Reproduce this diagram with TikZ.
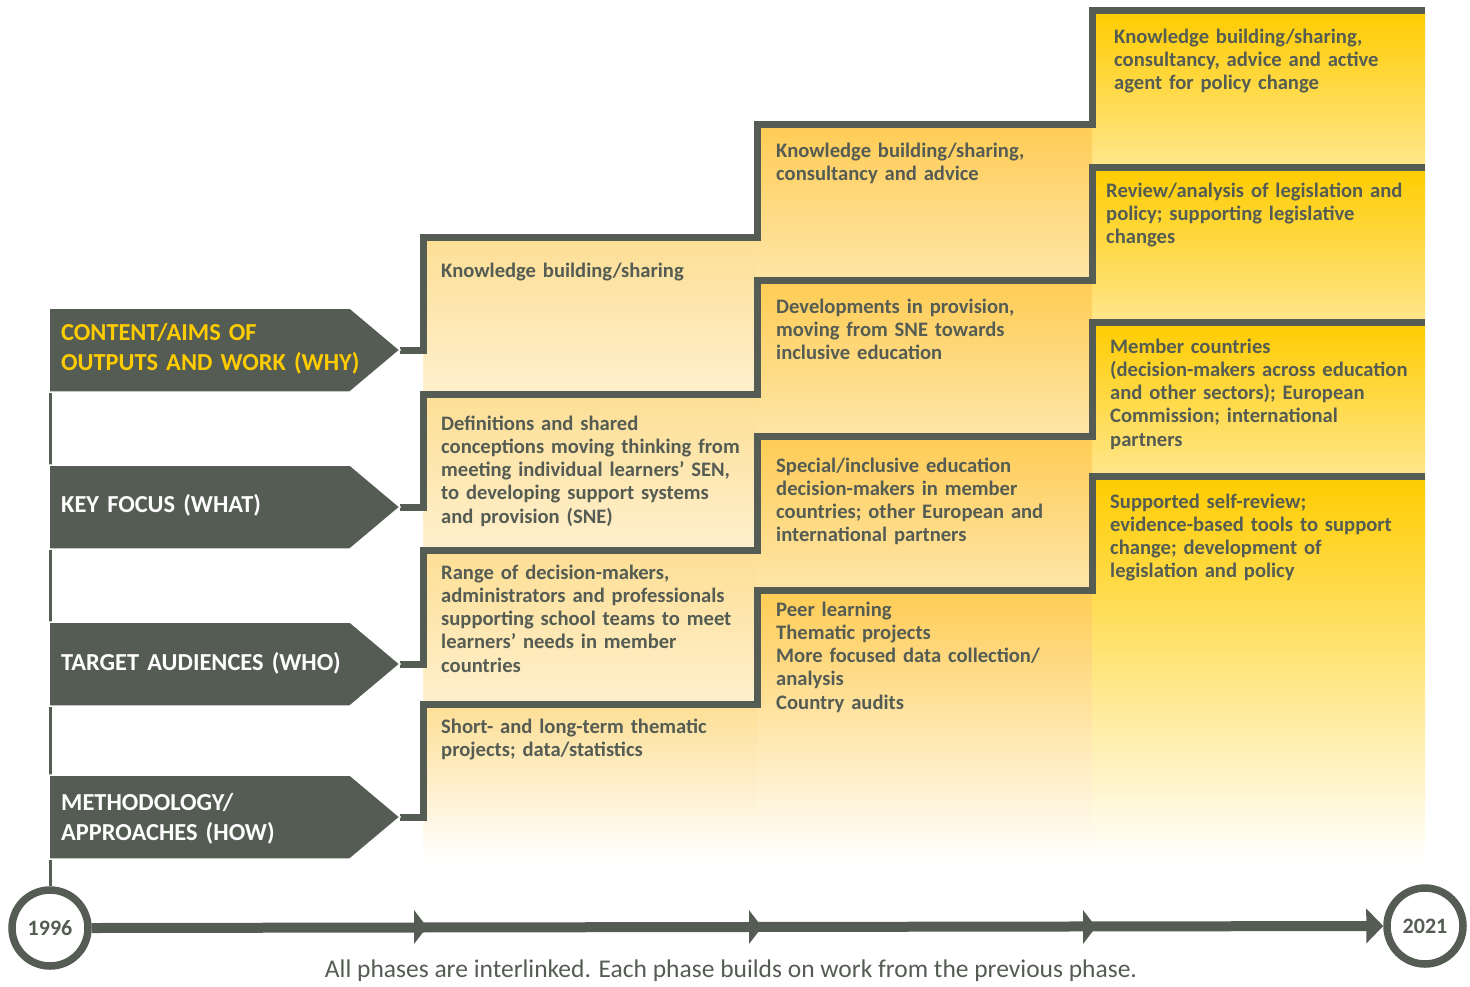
\documentclass[tikz,border=0pt]{standalone}
\usepackage{fontspec}
\setmainfont{Carlito}
\usetikzlibrary{arrows.meta}
\definecolor{dgray}{RGB}{84,92,83}
\definecolor{hiyel}{RGB}{255,204,0}
\definecolor{aTop}{RGB}{253,222,148}
\definecolor{aBot}{RGB}{254,240,206}
\definecolor{bTop}{RGB}{255,204,84}
\definecolor{bBot}{RGB}{254,230,168}
\definecolor{cTop}{RGB}{255,204,0}
\definecolor{cBot}{RGB}{255,230,140}
\definecolor{paleY}{RGB}{254,241,212}
\tikzset{
  stair/.style={draw=dgray, line width=7pt, line join=miter},
  labarrow/.style={fill=dgray, draw=white, line width=1.5pt, line join=miter},
  boxtext/.style={anchor=base west, align=left, text width=360pt, inner sep=0pt,
    font=\bfseries\fontsize{20.6}{23.3}\selectfont, text=dgray},
  labtext/.style={anchor=base west, align=left, text width=330pt, inner sep=0pt,
    font=\bfseries\fontsize{24.4}{30.5}\selectfont, text=white},
  yearc/.style={circle, draw=dgray, line width=7.5pt, fill=white, minimum size=76pt,
    inner sep=0pt, font=\bfseries\fontsize{22}{24}\selectfont, text=dgray},
  midtip/.style={fill=dgray},
}
\begin{document}
\begin{tikzpicture}[x=1pt,y=-1pt]
\useasboundingbox (0,0) rectangle (1470,986);
% ---------- gradient fills ----------
% row 1
\shade[top color=aTop, bottom color=aBot] (423,237) rectangle (757,394);
\shade[top color=bTop, bottom color=bBot] (757,124) rectangle (1092,280);
\shade[top color=cTop, bottom color=cBot] (1092,10) rectangle (1425,167);
% row 2
\shade[top color=aTop, bottom color=aBot] (423,394) rectangle (757,550);
\shade[top color=bTop, bottom color=bBot] (757,280) rectangle (1092,436);
\shade[top color=cTop, bottom color=cBot] (1092,167) rectangle (1425,322);
% row 3
\shade[top color=aTop, bottom color=aBot] (423,550) rectangle (757,704);
\shade[top color=bTop, bottom color=bBot] (757,436) rectangle (1092,590);
\shade[top color=cTop, bottom color=cBot] (1092,322) rectangle (1425,476);
% row 4 (fading to white)
\shade[top color=aTop, bottom color=white] (423,704) rectangle (757,862);
\shade[top color=bTop, bottom color=white] (757,590) rectangle (1092,862);
\shade[top color=cTop, middle color=cBot!80!white, bottom color=white] (1092,476) rectangle (1425,862);
% faint glow below label arrows
\foreach \t in {350,507,664,817}{
  \shade[top color=white, middle color=paleY, bottom color=white] (85,\t+4) rectangle (423,\t+62);
}
% ---------- left spine ----------
\node[yearc] (y1996) at (50,928) {1996};
\node[yearc] (y2021) at (1425,926) {2021};
\coordinate (spinetop) at (50.5,308);
\draw[dgray, line width=3pt] (spinetop) -- (y1996.north -| spinetop);
% ---------- staircases ----------
\coordinate (tip1) at (400,350);
\coordinate (tip2) at (400,507);
\coordinate (tip3) at (400,664);
\coordinate (tip4) at (400,817);
\draw[stair] (tip1) -- (423,350) -- (423,237) -- (757,237) -- (757,124) -- (1092,124) -- (1092,10) -- (1425,10);
\draw[stair] (tip2) -- (423,507) -- (423,394) -- (757,394) -- (757,280) -- (1092,280) -- (1092,167) -- (1425,167);
\draw[stair] (tip3) -- (423,664) -- (423,550) -- (757,550) -- (757,436) -- (1092,436) -- (1092,322) -- (1425,322);
\draw[stair] (tip4) -- (423,817) -- (423,704) -- (757,704) -- (757,590) -- (1092,590) -- (1092,476) -- (1425,476);
% ---------- label arrows ----------
\draw[labarrow] (49,308) -- (350,308) -- (tip1) -- (350,392) -- (49,392) -- cycle;
\draw[labarrow] (49,465) -- (350,465) -- (tip2) -- (350,549) -- (49,549) -- cycle;
\draw[labarrow] (49,622) -- (350,622) -- (tip3) -- (350,706) -- (49,706) -- cycle;
\draw[labarrow] (49,775) -- (350,775) -- (tip4) -- (350,859) -- (49,859) -- cycle;
\node[labtext, text=hiyel] (lwhy) at (61,340) {CONTENT/AIMS OF\\OUTPUTS AND WORK (WHY)};
\node[labtext] (lwhat) at (61,512) {KEY FOCUS (WHAT)};
\node[labtext] (lwho) at (61,670) {TARGET AUDIENCES (WHO)};
\node[labtext] (lhow) at (61,810) {METHODOLOGY/\\APPROACHES (HOW)};
% ---------- box texts ----------
\node[boxtext] (a1) at (441,277) {Knowledge building/sharing};
\node[boxtext] (a2) at (441,430) {Definitions and shared\\conceptions moving thinking from\\meeting individual learners’ SEN,\\to developing support systems\\and provision (SNE)};
\node[boxtext] (a3) at (441,579) {Range of decision-makers,\\administrators and professionals\\supporting school teams to meet\\learners’ needs in member\\countries};
\node[boxtext] (a4) at (441,733) {Short- and long-term thematic\\projects; data/statistics};
\node[boxtext] (b1) at (776,157) {Knowledge building/sharing,\\consultancy and advice};
\node[boxtext] (b2) at (776,313) {Developments in provision,\\moving from SNE towards\\inclusive education};
\node[boxtext] (b3) at (776,472) {Special/inclusive education\\decision-makers in member\\countries; other European and\\international partners};
\node[boxtext] (b4) at (776,616) {Peer learning\\Thematic projects\\More focused data collection/\\analysis\\Country audits};
\node[boxtext] (c1) at (1114,43) {Knowledge building/sharing,\\consultancy, advice and active\\agent for policy change};
\node[boxtext] (c2) at (1106,197) {Review/analysis of legislation and\\policy; supporting legislative\\changes};
\node[boxtext] (c3) at (1110,353) {Member countries\\(decision-makers across education\\and other sectors); European\\Commission; international\\partners};
\node[boxtext] (c4) at (1110,508) {Supported self-review;\\evidence-based tools to support\\change; development of\\legislation and policy};
% ---------- timeline ----------
\draw[dgray, line width=10pt, -{Triangle[length=17pt,width=34pt]}] (y1996.east) -- (y2021.west);
\coordinate (m1) at (427,927);
\coordinate (m2) at (762,927);
\coordinate (m3) at (1096,927);
\foreach \m in {m1,m2,m3}{
  \fill[midtip] (\m) -- ++(-13,-17) -- ++(0,34) -- cycle;
}
\node[text=dgray, font=\fontsize{25.5}{28}\selectfont, anchor=base] (caption) at (731,977)
  {All phases are interlinked. Each phase builds on work from the previous phase.};
\end{tikzpicture}
\end{document}
